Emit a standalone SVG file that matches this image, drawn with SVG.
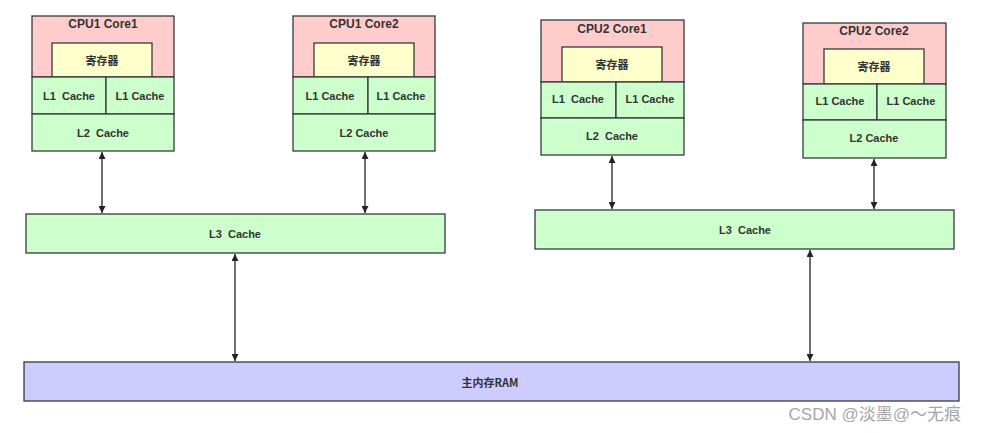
<svg xmlns="http://www.w3.org/2000/svg" width="983" height="433" viewBox="0 0 983 433">
<style>
  .box{stroke:#36393d;stroke-width:1.3}
  .pink{fill:#ffcccc}
  .yel{fill:#ffffcc}
  .grn{fill:#ccffcc}
  .ram{fill:#ccccff}
  text{font-family:"Liberation Sans",Arial,"Noto Sans CJK SC",sans-serif;fill:#333;font-weight:bold;text-anchor:middle;dominant-baseline:central;white-space:pre}
  .t{font-size:12px}
  .c{font-size:11px}
  .cn{font-size:11px;font-family:"Noto Sans CJK SC",sans-serif}
  .conn{stroke:#222;stroke-width:1.3;fill:none;marker-start:url(#ah);marker-end:url(#ah)}
  .wm{font-family:"Liberation Sans","Noto Sans CJK SC",sans-serif;font-weight:normal;font-size:17px;fill:#a6a6a6;text-anchor:end}
</style>
<defs>
  <marker id="ah" viewBox="0 0 10 10" refX="10" refY="5" markerWidth="7" markerHeight="7" markerUnits="userSpaceOnUse" orient="auto-start-reverse">
    <path d="M0,0 L10,5 L0,10 z" fill="#222"/>
  </marker>
</defs>

<g id="connectors">
  <line class="conn" x1="102" y1="152" x2="102" y2="213"/>
  <line class="conn" x1="365" y1="152" x2="365" y2="213"/>
  <line class="conn" x1="612" y1="156" x2="612" y2="209"/>
  <line class="conn" x1="874" y1="159" x2="874" y2="209"/>
  <line class="conn" x1="235" y1="254" x2="235" y2="361"/>
  <line class="conn" x1="810" y1="250" x2="810" y2="361"/>
</g>

<g id="cpu1core1">
  <rect class="box pink" x="32" y="16" width="142" height="61"/>
  <rect class="box yel" x="52" y="43" width="100" height="34"/>
  <rect class="box grn" x="32" y="77" width="74" height="37"/>
  <rect class="box grn" x="106" y="77" width="68" height="37"/>
  <rect class="box grn" x="32" y="114" width="142" height="37"/>
  <text class="t" x="103" y="24">CPU1 Core1</text>
  <text class="cn" x="102" y="60">寄存器</text>
  <text class="c" x="69" y="96">L1  Cache</text>
  <text class="c" x="140" y="96">L1 Cache</text>
  <text class="c" x="103" y="133">L2  Cache</text>
</g>

<g id="cpu1core2">
  <rect class="box pink" x="293" y="16" width="142" height="61"/>
  <rect class="box yel" x="314" y="43" width="100" height="34"/>
  <rect class="box grn" x="293" y="77" width="75" height="37"/>
  <rect class="box grn" x="368" y="77" width="67" height="37"/>
  <rect class="box grn" x="293" y="114" width="142" height="37"/>
  <text class="t" x="364" y="24">CPU1 Core2</text>
  <text class="cn" x="364" y="60">寄存器</text>
  <text class="c" x="330" y="96">L1 Cache</text>
  <text class="c" x="401" y="96">L1 Cache</text>
  <text class="c" x="364" y="133">L2 Cache</text>
</g>

<g id="cpu2core1">
  <rect class="box pink" x="541" y="20" width="143" height="62"/>
  <rect class="box yel" x="562" y="47" width="100" height="35"/>
  <rect class="box grn" x="541" y="82" width="75" height="36"/>
  <rect class="box grn" x="616" y="82" width="68" height="36"/>
  <rect class="box grn" x="541" y="118" width="143" height="37"/>
  <text class="t" x="612" y="29">CPU2 Core1</text>
  <text class="cn" x="612" y="64">寄存器</text>
  <text class="c" x="578" y="99">L1  Cache</text>
  <text class="c" x="650" y="99">L1 Cache</text>
  <text class="c" x="612" y="136">L2  Cache</text>
</g>

<g id="cpu2core2">
  <rect class="box pink" x="803" y="23" width="143" height="61"/>
  <rect class="box yel" x="824" y="49" width="100" height="35"/>
  <rect class="box grn" x="803" y="84" width="74" height="36"/>
  <rect class="box grn" x="877" y="84" width="69" height="36"/>
  <rect class="box grn" x="803" y="120" width="143" height="38"/>
  <text class="t" x="874" y="31">CPU2 Core2</text>
  <text class="cn" x="874" y="66">寄存器</text>
  <text class="c" x="840" y="101">L1 Cache</text>
  <text class="c" x="911" y="101">L1 Cache</text>
  <text class="c" x="874" y="138">L2 Cache</text>
</g>

<g id="l3left">
  <rect class="box grn" x="26" y="214" width="419" height="39"/>
  <text class="c" x="235" y="234">L3  Cache</text>
</g>

<g id="l3right">
  <rect class="box grn" x="535" y="210" width="419" height="39"/>
  <text class="c" x="745" y="230">L3  Cache</text>
</g>

<g id="ram">
  <rect class="box ram" x="24" y="362" width="935" height="39"/>
  <text class="cn" x="490" y="382">主内存RAM</text>
</g>

<text class="wm" x="961" y="414">CSDN @淡墨@～无痕</text>
</svg>
